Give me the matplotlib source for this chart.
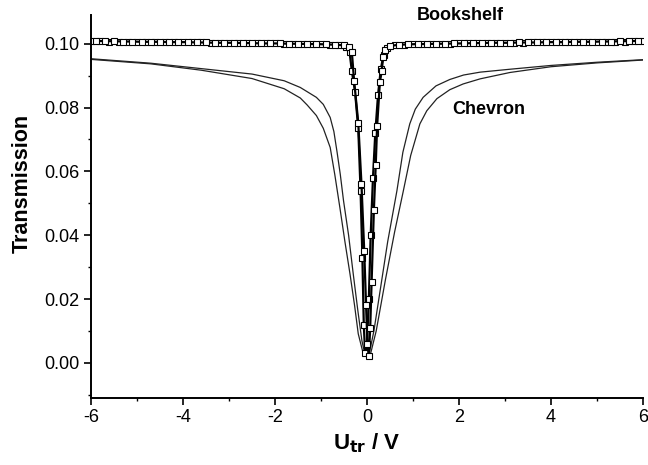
import matplotlib.pyplot as plt
from matplotlib.ticker import MultipleLocator, FormatStrFormatter

plt.rcParams['font.family'] = ['Liberation Sans', 'DejaVu Sans']

# Chevron cell: two sweeps of the transmission dip
chev_narrow_x = [-6.0, -4.7, -3.6, -2.5, -1.8, -1.45, -1.1, -0.95, -0.8, -0.72, -0.65,
                 -0.58, -0.51, -0.4, -0.3, -0.2, -0.11, -0.05, 0.0, 0.05, 0.15, 0.3,
                 0.45, 0.65, 0.78, 0.93, 1.05, 1.22, 1.5, 1.8, 2.1, 2.46, 3.1, 4.0,
                 5.0, 6.0]
chev_narrow_y = [0.0953, 0.0939, 0.0922, 0.0905, 0.0884, 0.0863, 0.0832, 0.0810, 0.0769,
                 0.0725, 0.0660, 0.0590, 0.0508, 0.0400, 0.0280, 0.0165, 0.0069, 0.0030,
                 0.0020, 0.0030, 0.0100, 0.0240, 0.0380, 0.0539, 0.0660, 0.0749, 0.0795,
                 0.0832, 0.0868, 0.0888, 0.0902, 0.0911, 0.0920, 0.0932, 0.0942, 0.0950]

chev_wide_x = [-6.0, -4.7, -3.6, -2.5, -1.8, -1.45, -1.3, -1.1, -0.95, -0.8, -0.7,
               -0.59, -0.48, -0.37, -0.27, -0.19, -0.08, 0.0, 0.08, 0.2, 0.4, 0.6,
               0.79, 0.95, 1.15, 1.3, 1.52, 1.8, 2.09, 2.46, 3.11, 4.0, 5.0, 6.0]
chev_wide_y = [0.0951, 0.0937, 0.0917, 0.0891, 0.0859, 0.0830, 0.0808, 0.0775, 0.0735,
               0.0675, 0.0590, 0.0487, 0.0380, 0.0279, 0.0180, 0.0091, 0.0028, 0.0020,
               0.0030, 0.0100, 0.0260, 0.0410, 0.0539, 0.0650, 0.0749, 0.0790, 0.0828,
               0.0856, 0.0874, 0.0890, 0.0910, 0.0928, 0.0940, 0.0949]

# Bookshelf cell: measured points, two sweeps
book1_x = [-6.0, -5.8, -5.6, -5.4, -5.2, -5.0, -4.8, -4.6, -4.4, -4.2, -4.0, -3.8, -3.6,
           -3.4, -3.2, -3.0, -2.8, -2.6, -2.4, -2.2, -2.0, -1.8, -1.6, -1.4, -1.2, -1.0,
           -0.8, -0.6,
           -0.45, -0.38, -0.33, -0.26, -0.19, -0.14, -0.10, -0.07, -0.04, 0.0, 0.04, 0.08,
           0.13, 0.18, 0.24, 0.30, 0.36, 0.44,
           0.6, 0.8, 1.0, 1.2, 1.4, 1.6, 1.8, 2.0, 2.2, 2.4, 2.6, 2.8, 3.0, 3.2, 3.4, 3.6,
           3.8, 4.0, 4.2, 4.4, 4.6, 4.8, 5.0, 5.2, 5.4, 5.6, 5.8, 6.0]
book1_y = [0.1008, 0.1008, 0.1007, 0.1007, 0.1006, 0.1006, 0.1006, 0.1005, 0.1005, 0.1005,
           0.1004, 0.1004, 0.1004, 0.1003, 0.1003, 0.1003, 0.1002, 0.1002, 0.1002, 0.1001,
           0.1001, 0.1000, 0.1000, 0.0999, 0.0999, 0.0998, 0.0997, 0.0996,
           0.0990, 0.0975, 0.0915, 0.0850, 0.0735, 0.0540, 0.0330, 0.0120, 0.0030, 0.0060,
           0.0200, 0.0400, 0.0580, 0.0720, 0.0840, 0.0920, 0.0965, 0.0988,
           0.0996, 0.0997, 0.0998, 0.0999, 0.0999, 0.1000, 0.1000, 0.1001, 0.1001, 0.1002,
           0.1002, 0.1002, 0.1003, 0.1003, 0.1003, 0.1004, 0.1004, 0.1004, 0.1005, 0.1005,
           0.1005, 0.1006, 0.1006, 0.1006, 0.1007, 0.1007, 0.1008, 0.1008]

book2_x = [-5.9, -5.7, -5.5, -5.3, -5.1, -4.9, -4.7, -4.5, -4.3, -4.1, -3.9, -3.7, -3.5,
           -3.3, -3.1, -2.9, -2.7, -2.5, -2.3, -2.1, -1.9, -1.7, -1.5, -1.3, -1.1, -0.9,
           -0.7, -0.5,
           -0.40, -0.33, -0.28, -0.19, -0.12, -0.06, -0.02, 0.01, 0.04, 0.07, 0.10, 0.15,
           0.19, 0.22, 0.28, 0.32, 0.35, 0.40, 0.50,
           0.7, 0.9, 1.1, 1.3, 1.5, 1.7, 1.9, 2.1, 2.3, 2.5, 2.7, 2.9, 3.1, 3.3, 3.5, 3.7,
           3.9, 4.1, 4.3, 4.5, 4.7, 4.9, 5.1, 5.3, 5.5, 5.7, 5.9]
book2_y = [0.1009, 0.1008, 0.1008, 0.1007, 0.1007, 0.1006, 0.1006, 0.1006, 0.1005, 0.1005,
           0.1005, 0.1004, 0.1004, 0.1003, 0.1003, 0.1003, 0.1002, 0.1002, 0.1001, 0.1001,
           0.1001, 0.1000, 0.1000, 0.0999, 0.0999, 0.0998, 0.0997, 0.0995,
           0.0990, 0.0975, 0.0884, 0.0753, 0.0560, 0.0350, 0.0180, 0.0060, 0.0022, 0.0110,
           0.0252, 0.0480, 0.0620, 0.0742, 0.0879, 0.0915, 0.0957, 0.0980, 0.0993,
           0.0997, 0.0998, 0.0999, 0.0999, 0.1000, 0.1000, 0.1001, 0.1001, 0.1002, 0.1002,
           0.1003, 0.1003, 0.1003, 0.1004, 0.1004, 0.1004, 0.1005, 0.1005, 0.1005, 0.1006,
           0.1006, 0.1006, 0.1007, 0.1007, 0.1008, 0.1008, 0.1009]

fig = plt.figure(figsize=(6.48, 4.65), dpi=100)
ax = fig.add_axes([0.1404, 0.1441, 0.8519, 0.8236])

ax.plot(chev_narrow_x, chev_narrow_y, color='#222222', lw=0.9)
ax.plot(chev_wide_x, chev_wide_y, color='#222222', lw=0.9)
for bx, by in [(book1_x, book1_y), (book2_x, book2_y)]:
    ax.plot(bx, by, color='black', lw=1.6, marker='s', ms=3.9,
            mfc='white', mec='black', mew=0.8)

ax.text(1.09, 0.1088, 'Bookshelf', fontsize=13, fontweight='bold',
        ha='left', va='center', clip_on=False)
ax.text(1.85, 0.0795, 'Chevron', fontsize=13, fontweight='bold',
        ha='left', va='center')

ax.set_xlim(-6, 6)
ax.set_ylim(-0.011, 0.109)
ax.xaxis.set_major_locator(MultipleLocator(2))
ax.xaxis.set_minor_locator(MultipleLocator(1))
ax.yaxis.set_major_locator(MultipleLocator(0.02))
ax.yaxis.set_minor_locator(MultipleLocator(0.01))
ax.yaxis.set_major_formatter(FormatStrFormatter('%.2f'))
ax.xaxis.set_major_formatter(FormatStrFormatter('%d'))

for side in ['top', 'right']:
    ax.spines[side].set_visible(False)
for side in ['left', 'bottom']:
    ax.spines[side].set_linewidth(1.4)
ax.tick_params(which='major', direction='out', length=5, width=1.2,
               labelsize=13, pad=3)
ax.tick_params(which='minor', direction='out', length=2.5, width=1.0)

ax.set_xlabel(r'U$_{\mathbf{tr}}$ / V', fontsize=16, fontweight='bold', labelpad=4)
ax.set_ylabel('Transmission', fontsize=15.5, fontweight='bold')
ax.yaxis.set_label_coords(-0.105, 0.56)

fig.savefig('out.png', dpi=100)
